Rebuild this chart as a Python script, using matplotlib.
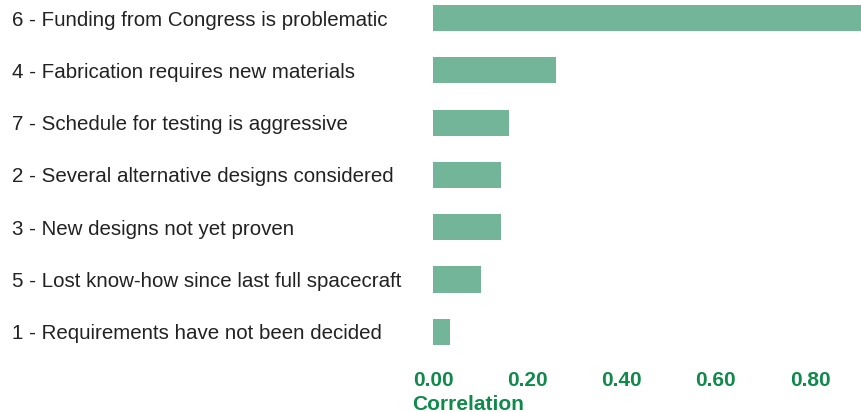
import matplotlib.pyplot as plt

# --- data (bottom to top) ---
labels = [
    "1 - Requirements have not been decided",
    "5 - Lost know-how since last full spacecraft",
    "3 - New designs not yet proven",
    "2 - Several alternative designs considered",
    "7 - Schedule for testing is aggressive",
    "4 - Fabrication requires new materials",
    "6 - Funding from Congress is problematic",
]
values = [0.036, 0.102, 0.144, 0.144, 0.161, 0.261, 0.92]
xticks = [0.0, 0.2, 0.4, 0.6, 0.8]

bar_color = "#72b598"
green = "#0f8a4b"

plt.rcParams["font.family"] = ["Liberation Sans", "DejaVu Sans"]

fig = plt.figure(figsize=(8.61, 4.12), dpi=100)
ax = fig.add_axes([433 / 861, 1 - 358 / 412, 1 - 433 / 861, 353 / 412])

ypos = list(range(len(labels)))
ax.barh(ypos, values, height=0.5, color=bar_color)
ax.set_xlim(0, 0.908)
ax.set_ylim(-0.5, 6.25)

ax.set_yticks(ypos)
ax.set_yticklabels(labels, fontsize=14.8, color="#222222", ha="left")
ax.tick_params(axis="y", length=0, pad=303)

ax.set_xticks(xticks)
ax.set_xticklabels([f"{v:.2f}" for v in xticks], fontsize=15,
                   fontweight="bold", color=green)
ax.tick_params(axis="x", length=0, pad=9)

for s in ax.spines.values():
    s.set_visible(False)

fig.text(412 / 861, 1 - 404 / 412, "Correlation", fontsize=15,
         fontweight="bold", color=green, ha="left", va="center")

fig.savefig("out.png", dpi=100)
